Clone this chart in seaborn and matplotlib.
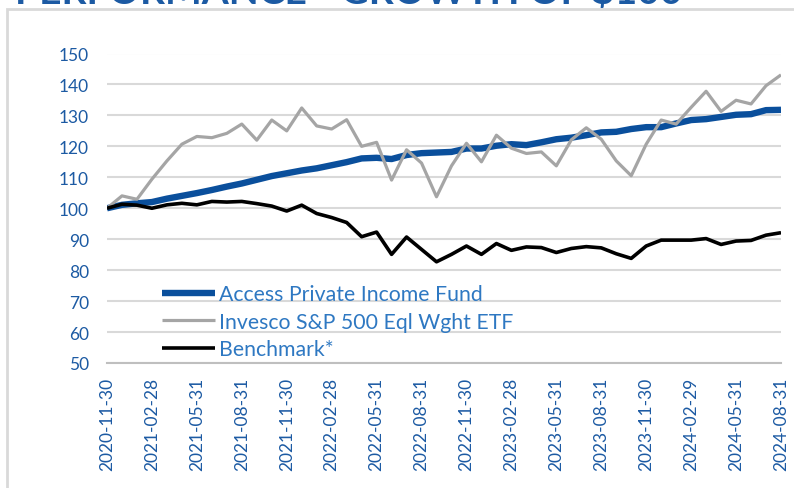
import matplotlib
matplotlib.use("Agg")
import matplotlib.pyplot as plt
import matplotlib.patches as mpatches
import pandas as pd
import seaborn as sns

# Data (growth of $100, month-end values)
dates = pd.date_range("2020-11-30", periods=46, freq="ME")

access = [100.0, 101.1, 101.6, 102.0, 103.1, 104.0, 104.9, 105.9, 107.0, 108.0,
          109.2, 110.4, 111.3, 112.2, 112.9, 113.9, 114.9, 116.1, 116.3, 115.9,
          117.2, 117.8, 118.0, 118.2, 119.3, 119.3, 120.2, 120.7, 120.4, 121.3,
          122.3, 122.8, 123.6, 124.5, 124.7, 125.6, 126.2, 126.2, 127.4, 128.5,
          128.8, 129.5, 130.2, 130.4, 131.7, 131.8]

invesco = [100.0, 104.0, 102.9, 109.4, 115.3, 120.7, 123.2, 122.8, 124.2, 127.2,
           122.0, 128.5, 125.0, 132.4, 126.6, 125.6, 128.6, 120.0, 121.3, 109.1,
           118.9, 114.6, 103.7, 113.7, 121.0, 115.0, 123.6, 119.4, 117.7, 118.2,
           113.7, 122.1, 126.0, 122.3, 115.3, 110.5, 120.7, 128.5, 127.2, 132.6,
           137.8, 131.3, 134.9, 133.7, 139.6, 143.1]

benchmark = [100.0, 101.3, 101.0, 100.0, 101.1, 101.6, 101.1, 102.2, 102.0, 102.2,
             101.5, 100.7, 99.1, 101.0, 98.3, 97.0, 95.4, 90.8, 92.3, 85.1,
             90.7, 86.7, 82.7, 85.1, 87.8, 85.1, 88.6, 86.4, 87.5, 87.3,
             85.7, 87.0, 87.6, 87.2, 85.3, 83.8, 87.8, 89.7, 89.7, 89.7,
             90.2, 88.3, 89.4, 89.6, 91.3, 92.1]

series_names = ["Access Private Income Fund", "Invesco S&P 500 Eql Wght ETF", "Benchmark*"]
series_colors = ["#0A4F9C", "#A5A5A5", "#000000"]
series_widths = [4.6, 2.3, 2.6]

tick_color = "#1C5AA3"
legend_color = "#2E78C2"

sns.set_style("white")
plt.rcParams["font.family"] = ["Lato", "DejaVu Sans"]

fig = plt.figure(figsize=(7.94, 4.89), dpi=100)
ax = fig.add_axes([107 / 794, 1 - 364 / 489, (781 - 107) / 794, (364 - 54.5) / 489])

x = list(range(len(dates)))
for name, vals, col, lw in zip(series_names, [access, invesco, benchmark], series_colors, series_widths):
    sns.lineplot(x=x, y=vals, ax=ax, color=col, linewidth=lw, label=name,
                 solid_capstyle="butt", solid_joinstyle="round")

ax.set_xlim(0, len(dates) - 1)
ax.set_ylim(50, 150)
ax.set_yticks(range(50, 151, 10))
ax.yaxis.grid(True, color="#D9D9D9", linewidth=1.5)
ax.set_axisbelow(True)

tick_pos = x[::3]
ax.set_xticks(tick_pos)
ax.set_xticklabels([dates[i].strftime("%Y-%m-%d") for i in tick_pos], rotation=90)

for s in ["top", "right", "left"]:
    ax.spines[s].set_visible(False)
ax.spines["bottom"].set_color("#BFBFBF")
ax.spines["bottom"].set_linewidth(1.5)
ax.tick_params(axis="x", colors="#BFBFBF", length=6, width=1.2, direction="out",
               labelcolor=tick_color, labelsize=12.5, pad=4)
ax.tick_params(axis="y", length=0, labelcolor=tick_color, labelsize=12.5, pad=13)
ax.set_xlabel("")
ax.set_ylabel("")

leg = ax.legend(loc="upper left", bbox_to_anchor=(162 / 794, 1 - 285 / 489),
                bbox_transform=fig.transFigure, frameon=False, fontsize=15.3,
                handlelength=2.5, handletextpad=0.2, labelspacing=0.36,
                borderpad=0, borderaxespad=0)
for t in leg.get_texts():
    t.set_color(legend_color)

# title, cropped by the top edge as in the source, and the outer frame
fig.text(15 / 794, 1 - 4 / 489, "PERFORMANCE - GROWTH OF $100", fontsize=28,
         fontweight="bold", color="#1C5AA3", ha="left", va="baseline")
fig.add_artist(mpatches.Rectangle((6.5 / 794, -0.05), 1.1, 1 - 10 / 489 + 0.05,
                                  transform=fig.transFigure, fill=False,
                                  edgecolor="#D9D9D9", linewidth=2))

fig.savefig("out.png", dpi=100)
